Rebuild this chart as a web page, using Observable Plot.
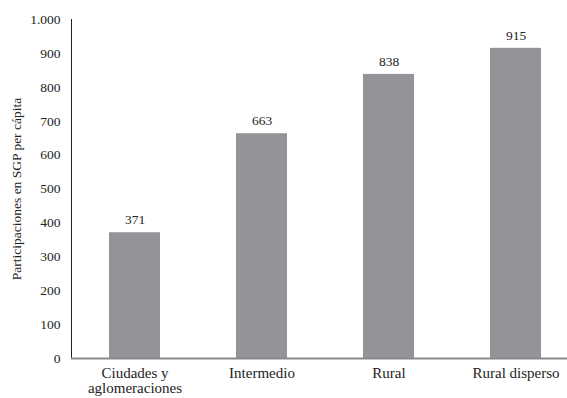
<!DOCTYPE html>
<html>
<head>
<meta charset="utf-8">
<script src="https://cdn.jsdelivr.net/npm/d3@7"></script>
<script src="https://cdn.jsdelivr.net/npm/@observablehq/plot@0.6"></script>
<style>
  html, body { margin: 0; padding: 0; background: #fff; }
  #chart { width: 567px; height: 398px; overflow: hidden; }
  #chart svg, #chart svg text { font-family: "Liberation Serif", "DejaVu Serif", serif !important; }
</style>
</head>
<body>
<div id="chart"></div>
<script>
// Participaciones en SGP per cápita por categoría de ruralidad
const categories = ["Ciudades y aglomeraciones", "Intermedio", "Rural", "Rural disperso"];
const categoryLabels = ["Ciudades y\naglomeraciones", "Intermedio", "Rural", "Rural disperso"];
const values = [371, 663, 838, 915];
const yTicks = [0, 100, 200, 300, 400, 500, 600, 700, 800, 900, 1000];
const yTitle = "Participaciones en SGP per cápita";

const data = categories.map((c, i) => ({category: c, value: values[i]}));
const es = d3.formatLocale({decimal: ",", thousands: ".", grouping: [3], currency: ["$", ""]});
const fmt = es.format(",");

const chart = Plot.plot({
  width: 567,
  height: 398,
  marginLeft: 71,
  marginRight: 0,
  marginTop: 19,
  marginBottom: 40,
  style: {fontSize: "13.5px", color: "#222", background: "#fff"},
  x: {domain: categories, range: [71, 579], paddingInner: 0.6, paddingOuter: 0.3},
  y: {domain: [0, 1000]},
  marks: [
    Plot.barY(data, {x: "category", y: "value", fill: "#939498"}),
    Plot.text(data, {x: "category", y: "value", text: d => fmt(d.value), dy: -13, fontSize: 13.5, fill: "#222"}),
    Plot.frame({anchor: "left", stroke: "#222", strokeWidth: 1}),
    Plot.ruleY([0], {stroke: "#8a8a8a", strokeWidth: 2}),
    Plot.axisY({ticks: yTicks, tickFormat: fmt, tickSize: 0, tickPadding: 11, fontSize: 13.5,
      label: yTitle, labelAnchor: "center", labelArrow: false, labelOffset: 60}),
    Plot.axisX({tickSize: 0, tickPadding: 9, fontSize: 15, lineHeight: 1,
      tickFormat: d => categoryLabels[categories.indexOf(d)], label: null})
  ]
});
document.getElementById("chart").append(chart);
</script>
</body>
</html>
